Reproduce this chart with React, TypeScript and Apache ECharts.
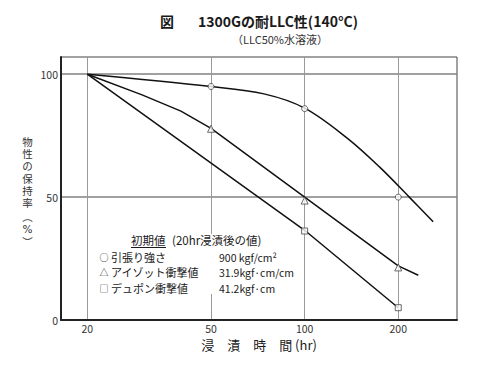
import React, { useEffect, useRef } from 'react';
import * as echarts from 'echarts';

// ---- data ----
const hourTicks = [20, 50, 100, 200];
const yTicks = [0, 50, 100];
const tensileCurve = [[20, 100], [50, 95], [74, 92], [100, 86.2], [137, 74], [175, 62], [217, 50], [259, 40]];
const tensileMarks = [[50, 95], [100, 86], [200, 50]];
const izodCurve = [[20, 100], [30, 91.6], [40, 85], [50, 78], [100, 50], [200, 22], [232, 18.2]];
const izodMarks = [[50, 77.8], [100, 48.6], [200, 21.4]];
const dupontCurve = [[20, 100], [100, 36.5], [200, 5]];
const dupontMarks = [[100, 36.2], [200, 5]];
const legendMarks = ['○', '△', '□'];
const legendNames = ['引張り強さ', 'アイゾット衝撃値', 'デュポン衝撃値'];
const legendValues = ['900 kgf/cm²', '31.9kgf·cm/cm', '41.2kgf·cm'];
const yNameChars = ['物', '性', 'の', '保', '持', '率', '︵', '%', '︶'];
const yNameRows = [141.7, 154, 166.3, 178.6, 190.9, 203.2, 216.5, 229, 241.5];

const FONT = '"Noto Sans CJK JP", "Noto Sans", sans-serif';
const NAME_FONT = '"DejaVu Sans", "Noto Sans CJK JP", sans-serif';
const INK = '#1a1a1a';

export default function App() {
  const ref = useRef<HTMLDivElement>(null);
  useEffect(() => {
    if (!ref.current) return;
    const chart = echarts.init(ref.current, undefined, { renderer: 'svg' });
    const rowY = [257, 272, 288];
    const legendGraphics: any[] = [];
    legendMarks.forEach((m, i) => {
      legendGraphics.push({ type: 'text', z: 5, x: 104, y: rowY[i], style: { text: m, font: `9px ${FONT}`, fill: INK, align: 'center', verticalAlign: 'middle' } });
      legendGraphics.push({ type: 'text', z: 5, x: 111, y: rowY[i], style: { text: legendNames[i], font: `11px ${FONT}`, fill: INK, align: 'left', verticalAlign: 'middle' } });
      legendGraphics.push({ type: 'text', z: 5, x: 219, y: rowY[i], style: { text: legendValues[i], font: `10.5px ${FONT}`, fill: INK, align: 'left', verticalAlign: 'middle' } });
    });
    const yNameGraphics = yNameChars.map((c, i) => ({
      type: 'text', x: 27.5, y: yNameRows[i],
      style: { text: c, font: `10.5px ${NAME_FONT}`, fill: '#333', align: 'center', verticalAlign: 'middle' },
    }));
    const markStyle = { color: '#fff', borderColor: '#444', borderWidth: 1 };
    chart.setOption({
      animation: false,
      backgroundColor: '#fff',
      textStyle: { fontFamily: FONT },
      grid: { left: 61, top: 57, right: 43, bottom: 52, show: true, borderColor: '#444', borderWidth: 1 },
      xAxis: {
        type: 'log', logBase: 10, min: 16.46, max: 309,
        name: '浸　漬　時　間 (hr)', nameLocation: 'middle', nameGap: 9,
        nameTextStyle: { fontSize: 13, color: INK, verticalAlign: 'top' },
        axisLine: { show: true, lineStyle: { color: '#222', width: 2 } },
        axisTick: { show: false, customValues: hourTicks },
        axisLabel: { customValues: hourTicks, color: '#333', fontSize: 10.5, margin: 3 },
        splitLine: { show: true, lineStyle: { color: '#9a9a9a', width: 1 } },
        minorSplitLine: { show: false },
      },
      yAxis: {
        type: 'value', min: 0, max: 107,
        axisLine: { show: true, lineStyle: { color: '#222', width: 2 } },
        axisTick: { show: false, customValues: yTicks },
        axisLabel: { customValues: yTicks, color: '#333', fontSize: 10.5, margin: 3 },
        splitLine: { show: true, lineStyle: { color: '#808080', width: 1.5 } },
      },
      series: [
        { type: 'line', data: tensileCurve, smooth: 0.35, showSymbol: false, lineStyle: { color: '#111', width: 1.5 }, z: 3 },
        { type: 'line', data: izodCurve, showSymbol: false, lineStyle: { color: '#111', width: 1.5 }, z: 3 },
        { type: 'line', data: dupontCurve, showSymbol: false, lineStyle: { color: '#111', width: 1.5 }, z: 3 },
        { type: 'scatter', data: tensileMarks, symbol: 'circle', symbolSize: 6, itemStyle: markStyle, z: 4 },
        { type: 'scatter', data: izodMarks, symbol: 'triangle', symbolSize: 7, itemStyle: markStyle, z: 4 },
        { type: 'scatter', data: dupontMarks, symbol: 'rect', symbolSize: 6, itemStyle: markStyle, z: 4 },
      ],
      graphic: [
        { type: 'text', x: 167, y: 21, style: { text: '図', font: `bold 14px ${FONT}`, fill: INK, align: 'center', verticalAlign: 'middle' } },
        { type: 'text', x: 278, y: 21, style: { text: '1300Gの耐LLC性(140°C)', font: `bold 14px ${FONT}`, fill: INK, align: 'center', verticalAlign: 'middle' } },
        { type: 'text', x: 280, y: 39, style: { text: '（LLC50%水溶液）', font: `11px ${FONT}`, fill: '#333', align: 'center', verticalAlign: 'middle' } },
        ...yNameGraphics,
        { type: 'rect', z: 1, shape: { x: 99, y: 234, width: 194, height: 60 }, style: { fill: '#fff' } },
        { type: 'text', z: 5, x: 131, y: 240, style: { text: '初期値', font: `11.5px ${FONT}`, fill: INK, align: 'left', verticalAlign: 'middle' } },
        { type: 'line', z: 5, shape: { x1: 131, y1: 247.5, x2: 166, y2: 247.5 }, style: { stroke: INK, lineWidth: 1 } },
        { type: 'text', z: 5, x: 172, y: 240, style: { text: '(20hr浸漬後の値)', font: `11.5px ${FONT}`, fill: INK, align: 'left', verticalAlign: 'middle' } },
        ...legendGraphics,
      ],
    });
    return () => chart.dispose();
  }, []);
  return <div ref={ref} style={{ position: 'fixed', left: 0, top: 0, width: 500, height: 372 }} />;
}
